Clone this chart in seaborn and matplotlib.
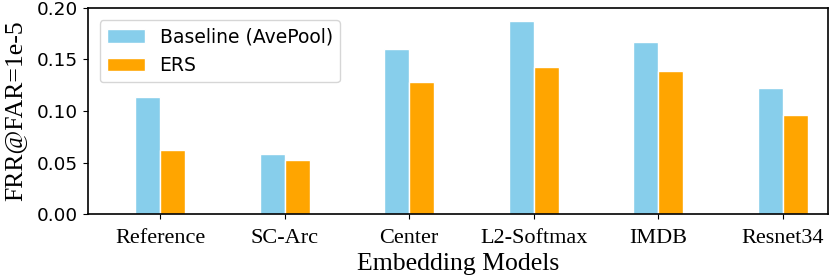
import pandas as pd
import seaborn as sns
import matplotlib.pyplot as plt

models = ['Reference', 'SC-Arc', 'Center', 'L2-Softmax', 'IMDB', 'Resnet34']
baseline = [0.113, 0.058, 0.160, 0.187, 0.167, 0.122]
ers = [0.062, 0.052, 0.128, 0.142, 0.139, 0.096]
methods = ['Baseline (AvePool)', 'ERS']

df = pd.DataFrame({
    'model': models * 2,
    'method': [methods[0]] * len(models) + [methods[1]] * len(models),
    'frr': baseline + ers,
})

plt.rcParams['font.family'] = ['DejaVu Sans']

fig, ax = plt.subplots(figsize=(8.3, 2.8), dpi=100)
sns.barplot(data=df, x='model', y='frr', hue='method', order=models,
            hue_order=methods, palette=['skyblue', 'orange'], width=0.4,
            saturation=1, edgecolor='white', linewidth=1, ax=ax)

ax.set_xlim(-0.58, 5.36)
ax.set_ylim(0, 0.2)
ax.set_yticks([0, 0.05, 0.10, 0.15, 0.20])
ax.set_yticklabels(['0.00', '0.05', '0.10', '0.15', '0.20'], fontsize=13.3)
ax.set_xticks(range(len(models)))
ax.set_xticklabels(models, fontsize=16, family='Liberation Serif')
ax.tick_params(axis='x', pad=7)
ax.set_xlabel('Embedding Models', fontsize=18.5, family='Liberation Serif', labelpad=4)
ax.set_ylabel('FRR@FAR=1e-5', fontsize=18.5, family='Liberation Serif', labelpad=8)
for s in ax.spines.values():
    s.set_linewidth(1.2)
ax.legend(loc='upper left', fontsize=13.5, title=None, bbox_to_anchor=(0.003, 0.985))

plt.subplots_adjust(left=0.106, right=0.997, top=0.973, bottom=0.235)
plt.savefig('out.png')
